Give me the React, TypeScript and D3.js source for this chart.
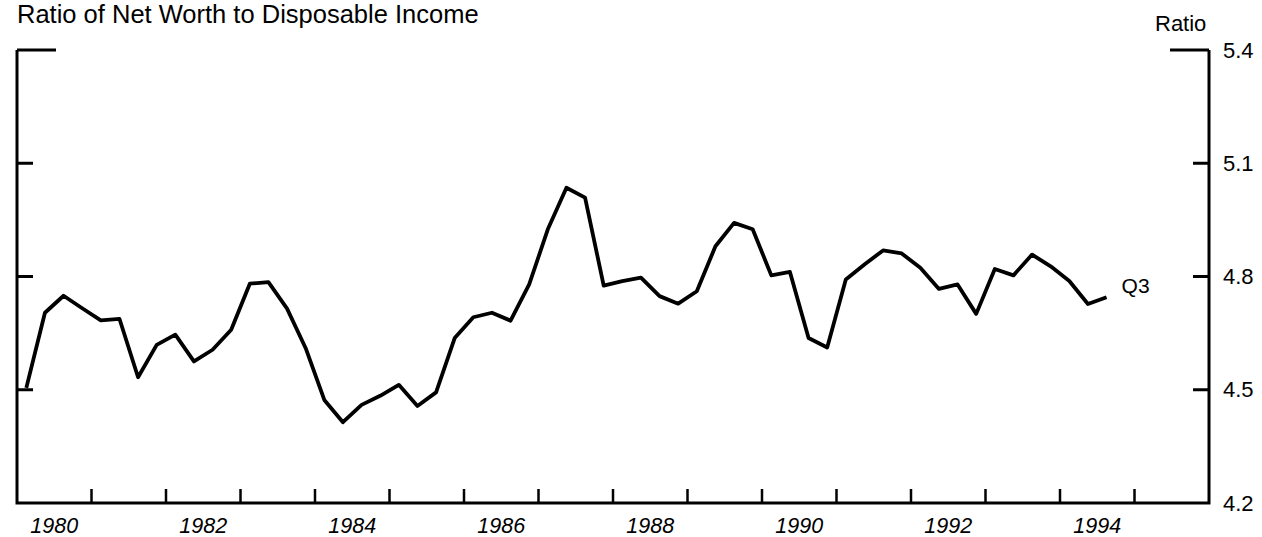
import { useRef, useEffect } from "react";
import * as d3 from "d3";

const startYear = 1980;
const endYear = 1996;
const yearLabels = [1980, 1982, 1984, 1986, 1988, 1990, 1992, 1994];
const ratioTicks = [4.2, 4.5, 4.8, 5.1, 5.4];

// quarterly ratio, 1980Q1 .. 1994Q3
const ratio = [
  4.505, 4.704, 4.749, 4.716,
  4.684, 4.688, 4.533, 4.619,
  4.646, 4.575, 4.606, 4.659,
  4.781, 4.785, 4.715, 4.61,
  4.473, 4.414, 4.46, 4.484,
  4.513, 4.457, 4.493, 4.637,
  4.692, 4.704, 4.683, 4.779,
  4.925, 5.035, 5.009, 4.776,
  4.788, 4.797, 4.748, 4.728,
  4.761, 4.88, 4.942, 4.925,
  4.803, 4.812, 4.637, 4.612,
  4.792, 4.832, 4.869, 4.861,
  4.823, 4.767, 4.779, 4.701,
  4.82, 4.803, 4.858, 4.827,
  4.788, 4.727, 4.745,
];

export default function App() {
  const ref = useRef<SVGSVGElement>(null);

  useEffect(() => {
    if (!ref.current) return;
    const svg = d3.select(ref.current);
    svg.selectAll("*").remove();

    const W = 1262,
      H = 537;
    const L = 17,
      R = 1209,
      T = 50,
      B = 503;
    const font = "'Liberation Sans', Arial, Helvetica, sans-serif";

    const x = d3.scaleLinear().domain([startYear, endYear]).range([L, R]);
    const y = d3.scaleLinear().domain([4.2, 5.4]).range([B, T]);

    svg.attr("width", W).attr("height", H).attr("viewBox", `0 0 ${W} ${H}`);

    // frame
    svg
      .append("path")
      .attr("d", `M${L},${T}V${B}H${R}V${T}`)
      .attr("fill", "none")
      .attr("stroke", "#000")
      .attr("stroke-width", 3);

    // y ticks, both sides
    ratioTicks
      .filter((t) => t > 4.2)
      .forEach((t) => {
        const len = t === 5.4 ? 39 : 16;
        svg
          .append("line")
          .attr("x1", L)
          .attr("x2", L + len)
          .attr("y1", y(t))
          .attr("y2", y(t))
          .attr("stroke", "#000")
          .attr("stroke-width", 3);
        svg
          .append("line")
          .attr("x1", R - len)
          .attr("x2", R)
          .attr("y1", y(t))
          .attr("y2", y(t))
          .attr("stroke", "#000")
          .attr("stroke-width", 3);
      });

    // right labels
    svg
      .append("g")
      .selectAll("text")
      .data(ratioTicks)
      .join("text")
      .attr("x", R + 14)
      .attr("y", (d) => y(d))
      .attr("dy", "0.35em")
      .attr("font-family", font)
      .attr("font-size", 22)
      .attr("fill", "#000")
      .text((d) => d.toFixed(1));

    svg
      .append("text")
      .attr("x", 1155)
      .attr("y", 31)
      .attr("font-family", font)
      .attr("font-size", 22)
      .attr("fill", "#000")
      .text("Ratio");

    // x ticks at year boundaries
    const yearTicks = d3.range(startYear + 1, endYear);
    svg
      .append("g")
      .selectAll("line")
      .data(yearTicks)
      .join("line")
      .attr("x1", (d) => x(d))
      .attr("x2", (d) => x(d))
      .attr("y1", B)
      .attr("y2", B - 14)
      .attr("stroke", "#000")
      .attr("stroke-width", 2.5);

    svg
      .append("g")
      .selectAll("text")
      .data(yearLabels)
      .join("text")
      .attr("x", (d) => x(d + 0.5))
      .attr("y", 533)
      .attr("text-anchor", "middle")
      .attr("font-family", font)
      .attr("font-style", "italic")
      .attr("font-size", 21.5)
      .attr("fill", "#000")
      .text((d) => d);

    // title
    svg
      .append("text")
      .attr("x", 17)
      .attr("y", 23)
      .attr("font-family", font)
      .attr("font-size", 25.5)
      .attr("fill", "#000")
      .text("Ratio of Net Worth to Disposable Income");

    // series
    const line = d3
      .line<number>()
      .x((_, i) => x(startYear + (i + 0.5) / 4))
      .y((d) => y(d));
    svg
      .append("path")
      .datum(ratio)
      .attr("d", line)
      .attr("fill", "none")
      .attr("stroke", "#000")
      .attr("stroke-width", 3.8)
      .attr("stroke-linejoin", "round");

    const last = ratio.length - 1;
    svg
      .append("text")
      .attr("x", x(startYear + (last + 0.5) / 4) + 15)
      .attr("y", y(ratio[last]) - 12)
      .attr("dy", "0.35em")
      .attr("font-family", font)
      .attr("font-size", 21)
      .attr("fill", "#000")
      .text("Q3");
  }, []);

  return (
    <svg
      ref={ref}
      style={{ position: "absolute", left: 0, top: 0, display: "block", background: "#fff" }}
    />
  );
}
